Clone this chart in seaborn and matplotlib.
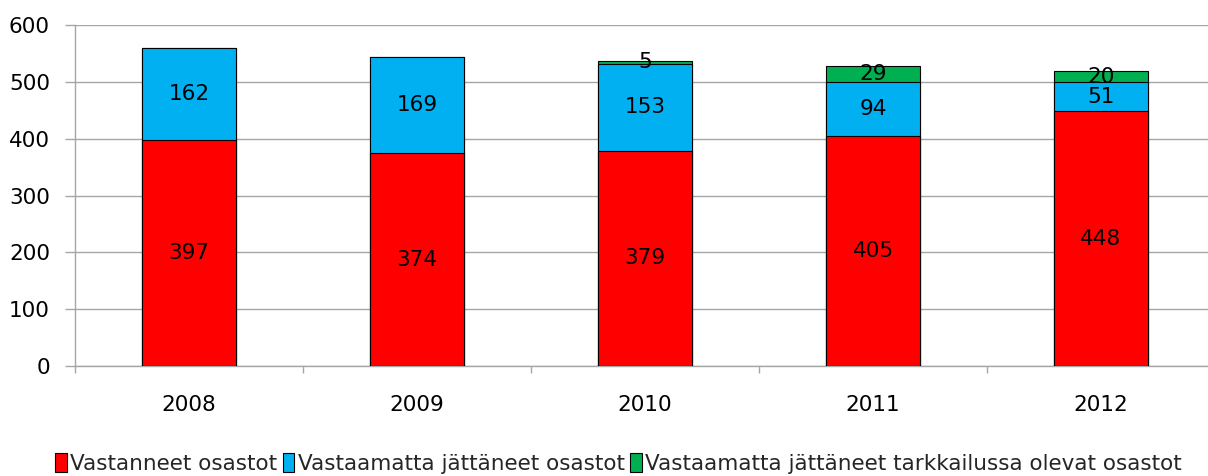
import matplotlib
matplotlib.use("Agg")
import matplotlib.pyplot as plt
import seaborn as sns
import numpy as np
import pandas as pd
from matplotlib.patches import Patch

years = ["2008", "2009", "2010", "2011", "2012"]
vastanneet = [397, 374, 379, 405, 448]
vastaamatta = [162, 169, 153, 94, 51]
tarkkailussa = [0, 0, 5, 29, 20]
series_names = ["Vastanneet osastot", "Vastaamatta jättäneet osastot",
                "Vastaamatta jättäneet tarkkailussa olevat osastot"]
colors = ["#ff0000", "#00b0f0", "#00b050"]
yticks = [0, 100, 200, 300, 400, 500, 600]

sns.set_theme(style="white")
plt.rcParams['font.family'] = ['DejaVu Sans']

fig = plt.figure(figsize=(12.08, 4.76), dpi=100)
ax = fig.add_axes([75/1208, 110/476, 1140/1208, 341/476])

r = np.array(vastanneet)
b = np.array(vastaamatta)
g = np.array(tarkkailussa)
layers = [(r + b + g, colors[2]), (r + b, colors[1]), (r, colors[0])]
for vals, c in layers:
    df = pd.DataFrame({"year": years, "v": vals})
    sns.barplot(data=df, x="year", y="v", color=c, saturation=1, width=0.41,
                edgecolor="black", linewidth=0.8, ax=ax, zorder=3)

FS = 15.5
# labels
for i in range(len(years)):
    ax.text(i, r[i] / 2, str(r[i]), ha="center", va="center", fontsize=FS, color="black", zorder=5)
    ax.text(i, r[i] + b[i] / 2, str(b[i]), ha="center", va="center", fontsize=FS, color="black", zorder=5)
    if g[i] > 0:
        ax.text(i, r[i] + b[i] + g[i] / 2, str(g[i]), ha="center", va="center", fontsize=FS, color="black", zorder=5)

ax.set_xlim(-0.5, 4.5)
ax.set_ylim(0, 600)
ax.set_yticks(yticks)
ax.set_yticklabels([str(t) for t in yticks], fontsize=FS, color="black")
ax.set_xlabel("")
ax.set_ylabel("")
ax.yaxis.grid(True, color="#a6a6a6", linewidth=1)
ax.set_axisbelow(True)
for s in ["top", "right"]:
    ax.spines[s].set_visible(False)
for s in ["left", "bottom"]:
    ax.spines[s].set_color("#a6a6a6")
    ax.spines[s].set_linewidth(1)

ax.set_xticks(range(len(years)))
ax.set_xticklabels(years, fontsize=FS, color="black")
ax.tick_params(axis="x", length=0, pad=21)
ax.set_xticks(np.arange(-0.5, 5, 1), minor=True)
ax.tick_params(axis="x", which="minor", length=5, color="#a6a6a6", width=1, direction="out", bottom=True)
ax.tick_params(axis="y", length=7, color="#a6a6a6", width=1, direction="out", left=True, pad=11)

handles = [Patch(facecolor=c, edgecolor="black", linewidth=0.8) for c in colors]
fig.legend(handles, series_names, loc="center", bbox_to_anchor=(0.512, 0.027), ncol=3,
           frameon=False, handlelength=0.55, handleheight=1.0, handletextpad=0.15,
           columnspacing=0.25, prop={"family": ["DejaVu Sans"], "size": 15.5})

fig.savefig("out.png", dpi=100)
